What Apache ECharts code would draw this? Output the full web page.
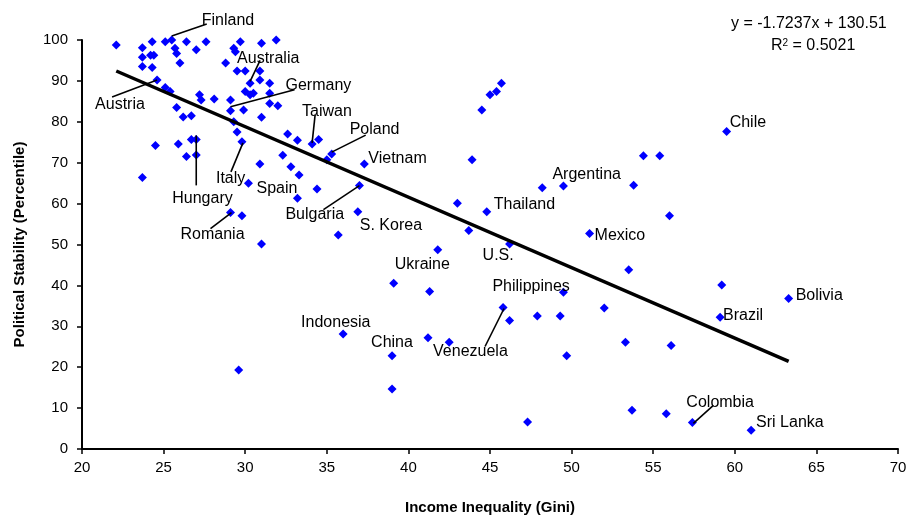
<!DOCTYPE html>
<html>
<head>
<meta charset="utf-8">
<script src="https://cdn.jsdelivr.net/npm/echarts@6/dist/echarts.min.js"></script>
<style>
  html, body { margin: 0; padding: 0; background: #fff; overflow: hidden; }
  #chart { width: 909px; height: 517px; }
</style>
</head>
<body>
<div id="chart"></div>
<script>
// Countries drawn without a name tag: Gini index and political stability percentile
const giniOther = [
  22.1, 23.7, 24.3, 25.1, 26.4, 27.0, 27.6, 25.7, 25.8, 23.7, 24.2, 24.4, 23.7, 24.3, 26.0,
  25.1, 25.4, 25.8, 26.2, 26.7, 27.2, 27.3, 28.1, 29.1, 29.9, 31.0, 28.8, 29.3, 29.4, 29.7,
  31.0, 31.9, 29.5, 30.0, 30.9, 30.9, 31.5, 30.0, 30.3, 30.5, 31.5, 31.5, 32.0, 24.5, 25.9,
  26.7, 26.4, 27.0, 23.7, 29.5, 29.3, 30.9, 32.6, 33.2, 32.3, 32.8, 33.3, 33.2, 29.8, 31.0,
  34.5, 35.0, 34.4, 43.9, 44.5, 45.0, 45.4, 45.7, 43.0, 48.2, 53.8, 54.4, 55.4, 56.0, 53.5,
  46.2, 47.9, 49.3, 52.0, 53.3, 56.1, 49.7, 59.2, 53.7, 55.8, 35.7, 43.7, 39.1, 41.3, 41.2,
  42.5, 39.0, 47.3, 29.6
];
const stabilityOther = [
  98.8, 98.1, 99.6, 99.6, 99.6, 97.6, 99.6, 98.0, 96.7, 95.8, 96.3, 96.3, 93.5, 93.3, 94.4,
  88.4, 87.4, 83.5, 81.2, 81.5, 86.6, 85.3, 85.6, 85.3, 82.9, 81.1, 94.4, 98.0, 97.1, 99.6,
  99.2, 100, 92.4, 92.4, 92.4, 90.2, 89.4, 87.4, 86.6, 87.0, 87.0, 84.5, 83.9, 74.2, 74.6,
  75.7, 71.5, 71.9, 66.4, 77.5, 80.0, 69.7, 77.0, 75.5, 71.8, 69.0, 67.0, 61.3, 57.0, 50.1,
  75.7, 70.7, 63.6, 70.7, 82.9, 86.6, 87.4, 89.4, 60.1, 63.9, 64.5, 71.7, 71.7, 57.0, 43.8,
  31.4, 32.5, 32.5, 34.5, 26.1, 25.3, 22.8, 40.1, 9.5, 8.6, 52.3, 53.4, 40.5, 38.5, 27.2,
  26.1, 14.7, 6.6, 19.3
];

// Named countries
const namedCountries = [
  'Finland', 'Australia', 'Germany', 'Austria', 'Taiwan', 'Poland', 'Vietnam', 'Hungary',
  'Italy', 'Spain', 'Romania', 'Bulgaria', 'S. Korea', 'Ukraine', 'U.S.', 'Philippines',
  'Venezuela', 'Indonesia', 'China', 'Thailand', 'Argentina', 'Mexico', 'Chile', 'Bolivia',
  'Brazil', 'Colombia', 'Sri Lanka'
];
const giniNamed = [
  25.5, 30.3, 29.1, 24.6, 34.1, 35.3, 37.3, 27.0, 29.8, 30.2, 29.1, 37.0, 36.9, 41.8, 46.2,
  49.5, 45.8, 36.0, 39.0, 44.8, 49.5, 51.1, 59.5, 63.3, 59.1, 57.4, 61.0
];
const stabilityNamed = [
  100, 89.4, 82.7, 90.2, 74.6, 72.1, 69.7, 75.7, 75.1, 65.0, 57.8, 64.4, 58.0, 48.7, 50.1,
  38.3, 34.6, 28.1, 22.8, 58.0, 64.3, 52.7, 77.6, 36.8, 32.2, 6.5, 4.6
];

// Linear fit
const fitSlope = -1.7237;
const fitIntercept = 130.51;
const fitR2 = 0.5021;

// Name tag placement, in pixels relative to the marker: text anchor and optional leader line
const tagPlacement = {
  'Finland':     { dx: 30,  dy: -19, line: [0, -4, 35, -16] },
  'Australia':   { dx: -13, dy: -25, line: [0, -2, 10, -23] },
  'Germany':     { dx: 55,  dy: -25, line: [0, -4, 64, -21] },
  'Austria':     { dx: -62, dy: 25,  line: [-45, 17, 0, 0] },
  'Taiwan':      { dx: -10, dy: -32, line: [3, -29, 0, -1] },
  'Poland':      { dx: 18,  dy: -25, line: [34, -19, 0, -2] },
  'Vietnam':     { dx: 4,   dy: -5 },
  'Hungary':     { dx: -24, dy: 59,  line: [0, -4, 0, 46] },
  'Italy':       { dx: -26, dy: 37,  line: [1, 1, -11, 30] },
  'Spain':       { dx: 8,   dy: 5 },
  'Romania':     { dx: -50, dy: 22,  line: [1, 0, -20, 16] },
  'Bulgaria':    { dx: -74, dy: 29,  line: [0, 0, -36, 24] },
  'S. Korea':    { dx: 2,   dy: 14 },
  'Ukraine':     { dx: -43, dy: 15 },
  'U.S.':        { dx: -27, dy: 12 },
  'Philippines': { dx: -71, dy: -6 },
  'Venezuela':   { dx: -70, dy: 44,  line: [1, 1, -18, 39] },
  'Indonesia':   { dx: -42, dy: -11 },
  'China':       { dx: -21, dy: -13 },
  'Thailand':    { dx: 7,   dy: -7 },
  'Argentina':   { dx: -11, dy: -11 },
  'Mexico':      { dx: 5,   dy: 2 },
  'Chile':       { dx: 3,   dy: -9 },
  'Bolivia':     { dx: 7,   dy: -3 },
  'Brazil':      { dx: 3,   dy: -2 },
  'Colombia':    { dx: -6,  dy: -20, line: [1, 1, 21, -17] },
  'Sri Lanka':   { dx: 5,   dy: -8 }
};

const FONT = '"Liberation Sans", Arial, Helvetica, sans-serif';

const allPoints = giniOther.map((g, i) => [g, stabilityOther[i]])
  .concat(giniNamed.map((g, i) => [g, stabilityNamed[i]]));
const namedPoints = giniNamed.map((g, i) => [g, stabilityNamed[i]]);

const allGini = giniOther.concat(giniNamed);
const xLo = Math.min(...allGini);
const xHi = Math.max(...allGini);
const fitLine = [[xLo, fitSlope * xLo + fitIntercept], [xHi, fitSlope * xHi + fitIntercept]];

const chart = echarts.init(document.getElementById('chart'), null, { renderer: 'canvas' });

chart.setOption({
  animation: false,
  backgroundColor: '#ffffff',
  grid: { left: 82, right: 11, top: 40, bottom: 68, containLabel: false, outerBoundsMode: 'none' },
  xAxis: {
    type: 'value',
    min: 20, max: 70, interval: 5,
    name: 'Income Inequality (Gini)',
    nameLocation: 'middle',
    nameGap: 51,
    nameTextStyle: { fontFamily: FONT, fontSize: 15, fontWeight: 'bold', color: '#000' },
    axisLine: { show: true, onZero: false, lineStyle: { color: '#000', width: 2 } },
    axisTick: { show: true, inside: false, length: 5, lineStyle: { color: '#000', width: 1.5 } },
    axisLabel: { fontFamily: FONT, fontSize: 15, color: '#000', margin: 11 },
    splitLine: { show: false }
  },
  yAxis: {
    type: 'value',
    min: 0, max: 100, interval: 10,
    name: 'Political Stability (Percentile)',
    nameLocation: 'middle',
    nameGap: 55,
    nameTextStyle: { fontFamily: FONT, fontSize: 15, fontWeight: 'bold', color: '#000' },
    axisLine: { show: true, onZero: false, lineStyle: { color: '#000', width: 2 } },
    axisTick: { show: true, inside: false, length: 5, lineStyle: { color: '#000', width: 1.5 } },
    axisLabel: { fontFamily: FONT, fontSize: 15, color: '#000', margin: 14 },
    splitLine: { show: false }
  },
  graphic: [
    {
      type: 'text', left: 731, top: 16, z: 100,
      style: { text: 'y = -1.7237x + 130.51', font: '16px ' + FONT, fill: '#000' }
    },
    {
      type: 'text', left: 771, top: 38, z: 100,
      style: {
        text: '{r|R}{s|2}{r| = ' + fitR2.toFixed(4) + '}',
        fill: '#000',
        rich: {
          r: { fontFamily: FONT, fontSize: 16, color: '#000' },
          s: { fontFamily: FONT, fontSize: 10, color: '#000', verticalAlign: 'top', padding: [0, 0, 6, 0] }
        }
      }
    }
  ],
  series: [
    {
      name: 'Countries',
      type: 'scatter',
      symbol: 'diamond',
      symbolSize: 9,
      itemStyle: { color: '#0000ff', opacity: 1 },
      data: allPoints,
      z: 2
    },
    {
      name: 'Linear fit',
      type: 'line',
      data: fitLine,
      symbol: 'none',
      lineStyle: { color: '#000', width: 3.5 },
      z: 3
    },
    {
      name: 'Country names',
      type: 'custom',
      data: namedPoints,
      z: 4,
      renderItem: function (params, api) {
        const name = namedCountries[params.dataIndex];
        const p = api.coord([api.value(0), api.value(1)]);
        const t = tagPlacement[name];
        const children = [{
          type: 'text',
          x: p[0] + t.dx,
          y: p[1] + t.dy,
          style: { text: name, font: '16px ' + FONT, fill: '#000', align: 'left', verticalAlign: 'middle' }
        }];
        if (t.line) {
          children.push({
            type: 'line',
            shape: { x1: p[0] + t.line[0], y1: p[1] + t.line[1], x2: p[0] + t.line[2], y2: p[1] + t.line[3] },
            style: { stroke: '#000', lineWidth: 1.6 }
          });
        }
        return { type: 'group', children: children };
      }
    }
  ]
});
</script>
</body>
</html>
